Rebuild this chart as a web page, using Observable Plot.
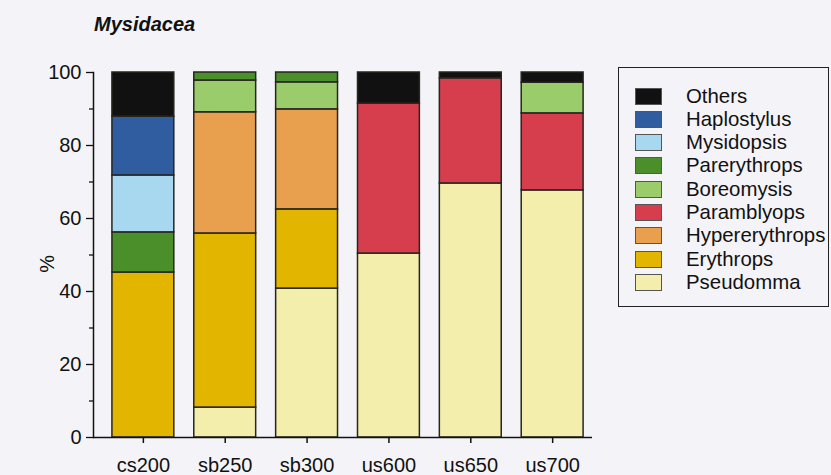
<!DOCTYPE html>
<html>
<head>
<meta charset="utf-8">
<script src="https://cdn.jsdelivr.net/npm/d3@7"></script>
<script src="https://cdn.jsdelivr.net/npm/@observablehq/plot@0.6"></script>
<style>
  html, body { margin: 0; padding: 0; background: #f4f4f8; }
  #wrap { position: relative; width: 831px; height: 475px; overflow: hidden; font-family: "Liberation Sans", Arial, sans-serif; }
  #title { position: absolute; left: 94px; top: 13px; font-size: 20px; font-weight: bold; font-style: italic; color: #111; }
  #legend { position: absolute; left: 618px; top: 67px; width: 211px; height: 240px; border: 1.5px solid #222; box-sizing: border-box; }
  .row { position: absolute; left: 16px; height: 18px; display: flex; align-items: center; }
  .sw { width: 27px; height: 17px; box-sizing: border-box; border: 1px solid #555; margin-right: 24px; flex: none; }
  .lab { font-size: 20.4px; color: #111; white-space: nowrap; }
</style>
</head>
<body>
<div id="wrap">
  <div id="chart"></div>
  <div id="title">Mysidacea</div>
  <div id="legend"></div>
</div>
<script>
// Sites (x categories)
const sites = ["cs200", "sb250", "sb300", "us600", "us650", "us700"];
// Genera, bottom of stack to top
const genera = ["Pseudomma", "Erythrops", "Hypererythrops", "Paramblyops", "Boreomysis", "Parerythrops", "Mysidopsis", "Haplostylus", "Others"];
const colors = ["#f3eeab", "#e2b500", "#e9a04e", "#d63e4d", "#9bcc6c", "#4b8f2b", "#a8d8ef", "#2f5d9f", "#111111"];
// Percentages per genus, one value per site (same order as sites)
const Pseudomma      = [0,    8.2,  40.8, 50.4, 69.6, 67.7];
const Erythrops      = [45.2, 47.7, 21.7, 0,    0,    0];
const Hypererythrops = [0,    33.2, 27.4, 0,    0,    0];
const Paramblyops    = [0,    0,    0,    41.1, 28.8, 21.1];
const Boreomysis     = [0,    8.7,  7.4,  0,    0,    8.4];
const Parerythrops   = [11.0, 2.2,  2.7,  0,    0,    0];
const Mysidopsis     = [15.6, 0,    0,    0,    0,    0];
const Haplostylus    = [16.1, 0,    0,    0,    0,    0];
const Others         = [12.1, 0,    0,    8.5,  1.6,  2.8];
// Y tick labels
const yMajor = [0, 20, 40, 60, 80, 100];
const yMinor = [10, 30, 50, 70, 90];

const series = {Pseudomma, Erythrops, Hypererythrops, Paramblyops, Boreomysis, Parerythrops, Mysidopsis, Haplostylus, Others};
const data = [];
for (const g of genera) {
  series[g].forEach((v, i) => { if (v > 0) data.push({site: sites[i], genus: g, value: v}); });
}

const chart = Plot.plot({
  width: 831,
  height: 475,
  marginLeft: 93,
  marginRight: 239,
  marginTop: 72,
  marginBottom: 38,
  style: {background: "#f4f4f8", fontFamily: "Liberation Sans, Arial, sans-serif", color: "#111"},
  x: {domain: sites, paddingInner: 0.244, paddingOuter: 0.17, align: 0.68, round: false, label: null},
  y: {domain: [0, 100], label: null},
  color: {domain: genera, range: colors},
  marks: [
    Plot.barY(data, {x: "site", y: "value", fill: "genus", order: genera, stroke: "#26261e", strokeWidth: 1.5}),
    Plot.frame({anchor: "left", stroke: "#111", strokeWidth: 1.5}),
    Plot.ruleY([0], {stroke: "#111", strokeWidth: 1.5}),
    Plot.axisY(yMajor, {tickSize: 7, tickPadding: 5, fontSize: 20, stroke: "#111", strokeWidth: 1.3}),
    Plot.axisY(yMinor, {tickSize: 4, text: null, stroke: "#111", strokeWidth: 1.3}),
    Plot.axisX({tickSize: 6, tickPadding: 14, fontSize: 20, stroke: "#111", strokeWidth: 1.5}),
    Plot.text(["%"], {frameAnchor: "left", dx: -46, rotate: -90, textAnchor: "end", fontSize: 20, fill: "#111"})
  ]
});
document.getElementById("chart").appendChild(chart);

// Legend (top entry first)
const legend = document.getElementById("legend");
genera.slice().reverse().forEach((g, i) => {
  const row = document.createElement("div");
  row.className = "row";
  row.style.top = (19 + i * 23.3) + "px";
  const sw = document.createElement("div");
  sw.className = "sw";
  sw.style.background = colors[genera.indexOf(g)];
  const lab = document.createElement("span");
  lab.className = "lab";
  lab.textContent = g;
  row.appendChild(sw);
  row.appendChild(lab);
  legend.appendChild(row);
});
</script>
</body>
</html>
